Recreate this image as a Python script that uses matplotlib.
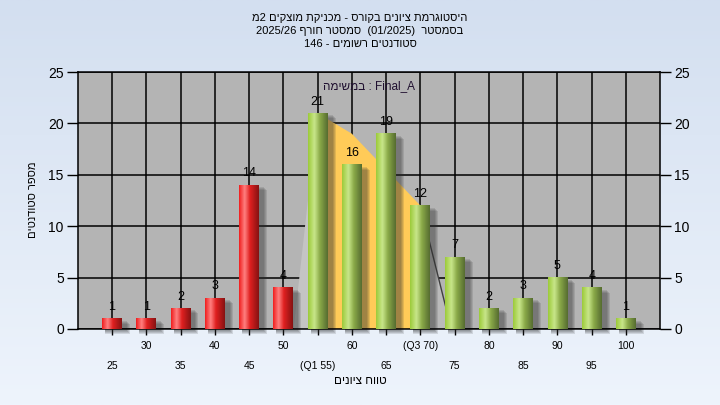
import re
import numpy as np
import matplotlib
matplotlib.use("Agg")
import matplotlib.pyplot as plt
from matplotlib.colors import LinearSegmentedColormap
from matplotlib.patches import Rectangle, Polygon

plt.rcParams["font.family"] = ["Liberation Sans", "DejaVu Sans"]

# data
grades = [25, 30, 35, 40, 45, 50, 55, 60, 65, 70, 75, 80, 85, 90, 95, 100]
counts = [1, 1, 2, 3, 14, 4, 21, 16, 19, 12, 7, 2, 3, 5, 4, 1]
q1, q3 = 55, 70
# outline of the shaded band behind the bars
band_x = [51.5, 55, 60, 65, 70, 74.5]
band_y = [0, 21, 19, 15.5, 12, 0]

title_lines = ["היסטוגרמת ציונים בקורס - מכניקת מוצקים 2מ",
               "בסמסטר  (01/2025)  סמסטר חורף 2025/26",
               "סטודנטים רשומים - 146"]
legend_txt = "Final_A : במשימה"
xlabel = "טווח ציונים"
ylabel = "מספר סטודנטים"


def heb(s):
    # matplotlib has no bidi: put RTL text into visual order
    toks = re.findall(r"[0-9A-Za-z_/.]+|.", s)
    mirror = {"(": ")", ")": "("}
    return "".join(mirror.get(t, t) for t in reversed(toks))


fig = plt.figure(figsize=(7.2, 4.05), dpi=100)

# figure background gradient
bg = fig.add_axes([0, 0, 1, 1], zorder=-10)
bg_cmap = LinearSegmentedColormap.from_list("bg", ["#eef4fc", "#d3dff0"])
bg.imshow(np.linspace(0, 1, 256).reshape(-1, 1), aspect="auto", cmap=bg_cmap,
          extent=[0, 1, 0, 1], origin="lower")
bg.axis("off")

ax = fig.add_axes([0.108, 0.188, 0.809, 0.634], zorder=1)
ax.set_facecolor("#b4b4b4")

red_cmap = LinearSegmentedColormap.from_list(
    "r", [(0, "#f01e1e"), (0.28, "#ff8080"), (0.55, "#e02020"), (1, "#861212")])
green_cmap = LinearSegmentedColormap.from_list(
    "g", [(0, "#9ccb3a"), (0.32, "#c8e68a"), (0.6, "#8aaa48"), (1, "#566c30")])
grad = np.linspace(0, 1, 64).reshape(1, -1)

w = 2.9
px_x = 85 / 582.0
px_y = 25 / 257.0

# shaded band
left_poly = [(band_x[0], 0), (band_x[1], band_y[1]), (band_x[1], 0)]
ax.add_patch(Polygon(left_poly, closed=True, facecolor="#c4c4c4", edgecolor="none", zorder=1))
mid = [(x, y) for x, y in zip(band_x, band_y) if q1 <= x <= q3]
mid_poly = [(q1, 0)] + mid + [(q3, 0)]
ax.add_patch(Polygon(mid_poly, closed=True, facecolor="#ffcb58", edgecolor="none", zorder=1))
right_poly = [(band_x[-2], 0), (band_x[-2], band_y[-2]), (band_x[-1], band_y[-1])]
ax.add_patch(Polygon(right_poly, closed=True, facecolor="#bababa", edgecolor="none", zorder=1))
ax.plot(band_x[-2:], band_y[-2:], color="#404040", lw=1, zorder=1.1)

for g, c in zip(grades, counts):
    # soft shadow
    for i in range(4):
        ax.add_patch(Rectangle((g - w / 2 + 3 * px_x, -(2 + i) * px_y),
                               w + (2 + i) * px_x, c,
                               facecolor="#303030", alpha=0.14, edgecolor="none",
                               zorder=2, clip_on=False))
    cmap = red_cmap if g < q1 else green_cmap
    ax.imshow(grad, aspect="auto", cmap=cmap, extent=[g - w / 2, g + w / 2, 0, c],
              zorder=3, interpolation="bilinear")
    ax.text(g, c + 0.55, str(c), ha="center", va="bottom", fontsize=9, zorder=4)

ax.set_xlim(20, 105)
ax.set_ylim(0, 25)
ax.set_xticks(grades)
ax.set_yticks(range(0, 26, 5))

xt = []
for i, g in enumerate(grades):
    lab = str(g)
    if g == q1:
        lab = "(Q1 %d)" % g
    elif g == q3:
        lab = "(Q3 %d)" % g
    xt.append("\n" + lab if i % 2 == 0 else lab)
ax.set_xticklabels(xt)
for lbl in ax.get_xticklabels():
    lbl.set_linespacing(2.2)

ax.grid(True, color="black", lw=1.1, zorder=0.5)
ax.set_axisbelow(True)
ax.tick_params(axis="x", length=4, width=1, pad=5, labelsize=7.5, direction="out")
ax.tick_params(axis="y", length=8, width=1, pad=2, labelsize=10,
               right=True, labelright=True)
for sp in ax.spines.values():
    sp.set_color("black")
    sp.set_linewidth(1.1)

ax.text(0.5, 0.945, heb(legend_txt), transform=ax.transAxes, ha="center",
        va="center", fontsize=8.5, color="#201030", zorder=5)

for k, line in enumerate(title_lines):
    fig.text(0.5, 1 - (18 + 13 * k) / 405.0, heb(line), ha="center", va="center",
             fontsize=8)

fig.text(0.5, 1 - 381 / 405.0, heb(xlabel), ha="center", va="center", fontsize=8.5)
fig.text(33 / 720.0, 1 - 200 / 405.0, heb(ylabel), ha="center", va="center",
         fontsize=8, rotation=90)

fig.savefig("out.png", dpi=100)
